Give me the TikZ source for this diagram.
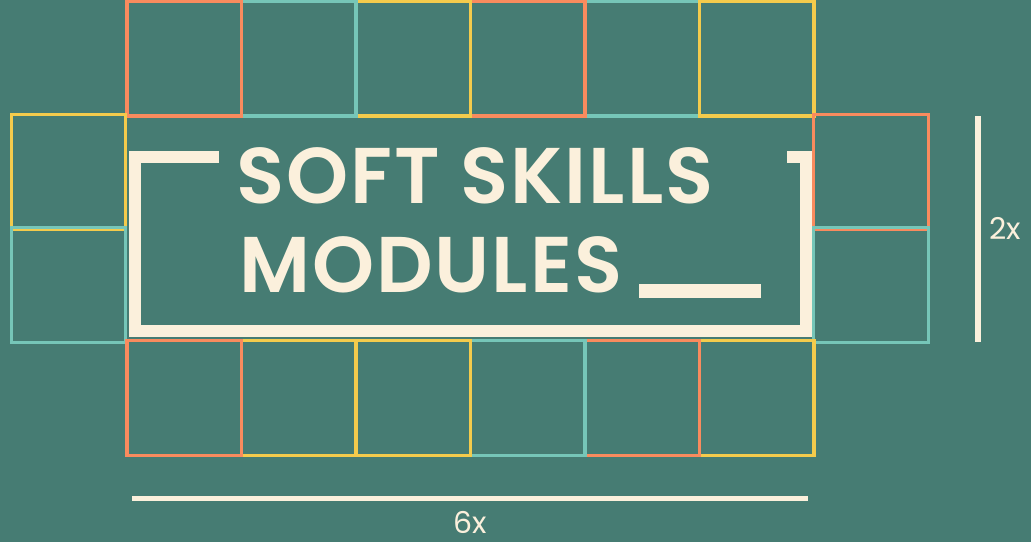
\documentclass[tikz,border=0pt]{standalone}
\usepackage{fontspec}
\setmainfont{Poppins}
\newfontfamily\titlefont{Poppins}[UprightFont=* SemiBold, LetterSpace=2.5]
\newfontfamily\labelfont{Poppins}
\definecolor{bgteal}{HTML}{467C73}
\definecolor{sqorange}{HTML}{F98B5E}
\definecolor{sqteal}{HTML}{76C6B8}
\definecolor{sqyellow}{HTML}{F4CB4C}
\definecolor{cream}{HTML}{FBF0DC}

\begin{document}
\begin{tikzpicture}[x=1pt,y=-1pt]
        \tikzset{tile/.style = {shape=rectangle,draw=#1,line width=3.2pt,minimum size=114.5pt,inner sep=0pt}}
        \tikzset{frame/.style = {draw=cream,line width=12pt}}
        \tikzset{ruler/.style = {draw=cream,line width=5.5pt}}
        \fill[bgteal] (0,0) rectangle (1031,542);

        \node[tile=sqteal] (t5) at (642.25, 58.5) {};
        \node[tile=sqyellow] (t6) at (756.75, 58.5) {};
        \node[tile=sqorange] (t4) at (527.75, 58.5) {};
        \node[tile=sqyellow] (t3) at (413.25, 58.5) {};
        \node[tile=sqteal] (t2) at (298.75, 58.5) {};
        \node[tile=sqorange] (t1) at (184.25, 58.5) {};

        \node[tile=sqyellow] (l1) at (68.5, 171.5) {};
        \node[tile=sqteal] (l2) at (68.5, 284.5) {};
        \node[tile=sqorange] (r1) at (871, 171.5) {};
        \node[tile=sqteal] (r2) at (871, 284.5) {};

        \node[tile=sqyellow] (b6) at (756.75, 397.5) {};
        \node[tile=sqorange] (b5) at (642.25, 397.5) {};
        \node[tile=sqteal] (b4) at (527.75, 397.5) {};
        \node[tile=sqyellow] (b3) at (413.25, 397.5) {};
        \node[tile=sqyellow] (b2) at (298.75, 397.5) {};
        \node[tile=sqorange] (b1) at (184.25, 397.5) {};

        \draw[frame] (219,157) -- (135,157) -- (135,331) -- (805.5,331) -- (805.5,157) -- (787,157);
        \draw[draw=cream,line width=14pt,rounded corners=2pt] (639,291) -- (761,291);

        \node[anchor=base west,text=cream,inner sep=0pt,font=\titlefont\fontsize{79}{80}\selectfont] (title1) at (236,203) {SOFT SKILLS};
        \node[anchor=base west,text=cream,inner sep=0pt,font=\titlefont\fontsize{79}{80}\selectfont] (title2) at (239,292) {MODULES};

        \coordinate (v1) at (978,116);
        \coordinate (v2) at (978,342);
        \coordinate (h1) at (132,498);
        \coordinate (h2) at (808,498);
        \draw[ruler] (v1) to (v2);
        \draw[ruler] (h1) to (h2);
        \node[anchor=base west,text=cream,inner sep=0pt,font=\labelfont\fontsize{30}{31}\selectfont] (twox) at (989,239) {2x};
        \node[anchor=base,text=cream,inner sep=0pt,font=\labelfont\fontsize{30}{31}\selectfont] (sixx) at (470,533) {6x};
      \end{tikzpicture}
\end{document}
